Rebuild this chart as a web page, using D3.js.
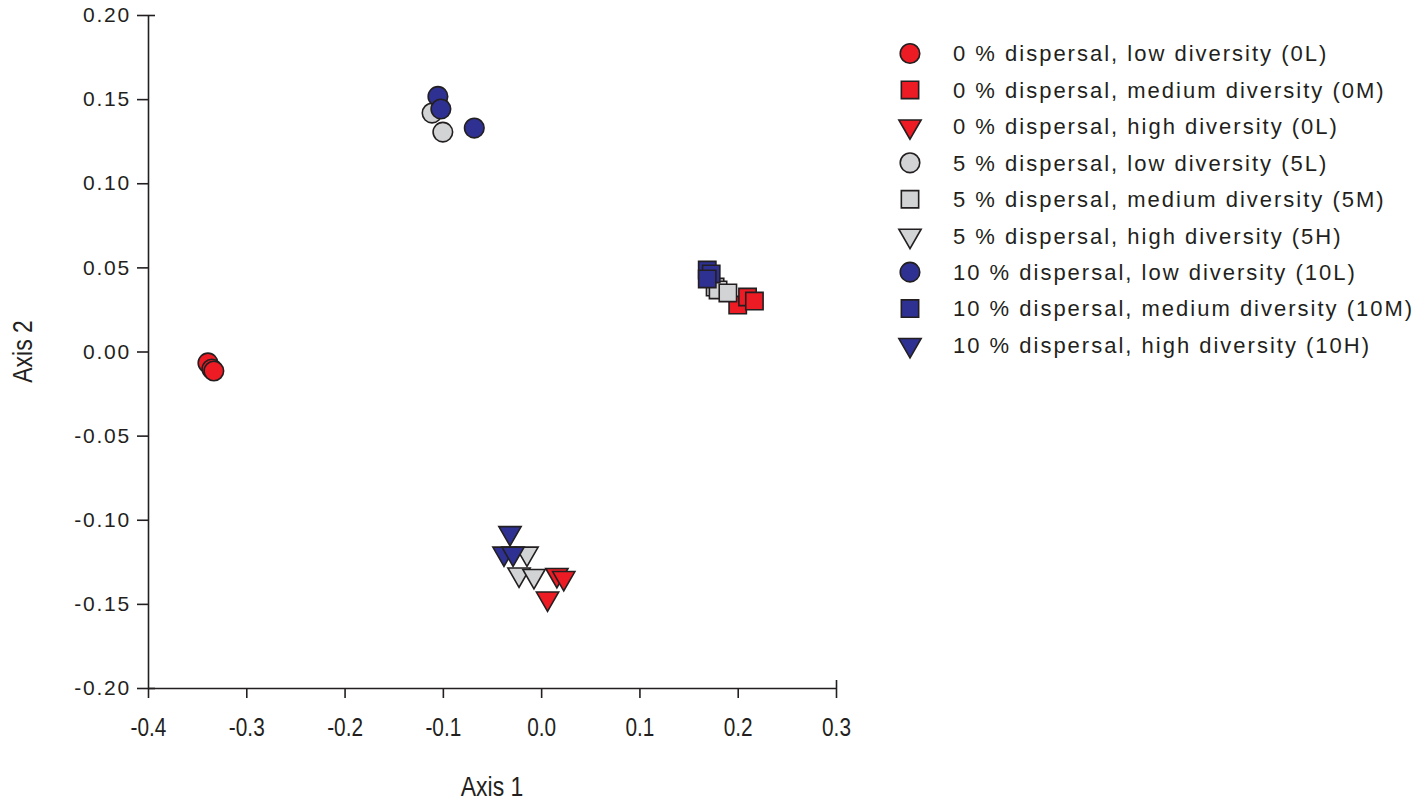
<!DOCTYPE html>
<html>
<head>
<meta charset="utf-8">
<script src="https://cdn.jsdelivr.net/npm/d3@7"></script>
<style>
  html, body { margin: 0; padding: 0; background: #fff; }
  svg { display: block; }
</style>
</head>
<body>
<div id="container"></div>
<script>
(function(){

    // ---- data (axis 1, axis 2)
    const labels = [
        "0 % dispersal, low diversity (0L)",
        "0 % dispersal, medium diversity (0M)",
        "0 % dispersal, high diversity (0L)",
        "5 % dispersal, low diversity (5L)",
        "5 % dispersal, medium diversity (5M)",
        "5 % dispersal, high diversity (5H)",
        "10 % dispersal, low diversity (10L)",
        "10 % dispersal, medium diversity (10M)",
        "10 % dispersal, high diversity (10H)"
    ];
    const dispersal = ["0", "0", "0", "5", "5", "5", "10", "10", "10"];
    const diversity = ["L", "M", "H", "L", "M", "H", "L", "M", "H"];

    const pts0L  = [[-0.339, -0.0068], [-0.335, -0.0104], [-0.333, -0.0116]];
    const pts0M  = [[0.200, 0.0276], [0.210, 0.0324], [0.217, 0.0300]];
    const pts0H  = [[0.016, -0.1328], [0.023, -0.1346], [0.0065, -0.1468]];
    const pts5L  = [[-0.111, 0.1417], [-0.100, 0.1304]];
    const pts5M  = [[0.177, 0.0383], [0.180, 0.0366], [0.190, 0.0348]];
    const pts5H  = [[-0.0144, -0.1201], [-0.0225, -0.1325], [-0.0073, -0.1334]];
    const pts10L = [[-0.105, 0.1516], [-0.102, 0.1441], [-0.068, 0.1328]];
    const pts10M = [[0.169, 0.0484], [0.173, 0.0461], [0.169, 0.0431]];
    const pts10H = [[-0.0317, -0.1079], [-0.0378, -0.1201], [-0.0286, -0.1201]];

    const seriesPoints = [pts0L, pts0M, pts0H, pts5L, pts5M, pts5H, pts10L, pts10M, pts10H];

    const xTicks = [-0.4, -0.3, -0.2, -0.1, 0.0, 0.1, 0.2, 0.3];
    const yTicks = [-0.20, -0.15, -0.10, -0.05, 0.00, 0.05, 0.10, 0.15, 0.20];

    // ---- look
    const width = 1428, height = 801;
    const margin = {top: 15, left: 148, right: 592, bottom: 113};
    const fillOf = {"0": "#ED1C24", "5": "#D1D3D4", "10": "#2E3192"};
    const stroke = "#231F20";
    const symbolOf = {
        L: d3.symbolCircle,
        M: d3.symbolSquare,
        H: d3.symbolTriangle
    };
    const sizeOf = {L: 300, M: 300, H: 215};
    const font = "'Liberation Sans', Arial, sans-serif";
    const hyphen = f => d => d3.format(f)(d).replace("\u2212", "-");

    const x = d3.scaleLinear([-0.4, 0.3], [margin.left, width - margin.right]);
    const y = d3.scaleLinear([-0.2, 0.2], [height - margin.bottom, margin.top]);

    const svg = d3.select("#container").append("svg")
        .attr("width", width)
        .attr("height", height);

    // ---- axes
    const gx = svg.append("g")
        .attr("transform", `translate(0,${y(-0.2)})`)
        .call(d3.axisBottom(x).tickValues(xTicks).tickFormat(hyphen(".1f"))
            .tickSize(10).tickSizeOuter(0).tickPadding(20));
    // the x labels are set in a condensed face
    gx.selectAll("text")
        .style("font-family", font)
        .style("font-size", "26px")
        .attr("transform", "scale(0.8,1)")
        .attr("fill", stroke);

    const gy = svg.append("g")
        .attr("transform", `translate(${x(-0.4)},0)`)
        .call(d3.axisLeft(y).tickValues(yTicks).tickFormat(hyphen(".2f"))
            .tickSize(11).tickSizeOuter(0).tickPadding(6));
    gy.selectAll("text")
        .style("font-family", font)
        .style("font-size", "21px")
        .style("letter-spacing", "1.8px")
        .attr("fill", stroke);

    [gx, gy].forEach(g => {
        g.select(".domain").attr("stroke", stroke).attr("stroke-width", 1.6);
        g.selectAll(".tick line").attr("stroke", stroke).attr("stroke-width", 1.6);
    });
    // end ticks cross the axis line
    gy.selectAll(".tick").filter(d => d === 0.2 || d === -0.2)
        .select("line").attr("x2", 7).attr("x1", -11);
    gx.selectAll(".tick").filter(d => d === 0.3)
        .select("line").attr("y1", -8);

    svg.append("text")
        .attr("transform", `translate(${(x(-0.4) + x(0.3)) / 2},796) scale(0.82,1)`)
        .attr("text-anchor", "middle")
        .style("font-family", font)
        .style("font-size", "28px")
        .attr("fill", stroke)
        .text("Axis 1");

    svg.append("text")
        .attr("transform", `translate(32,${y(0)}) rotate(-90) scale(0.82,1)`)
        .attr("text-anchor", "middle")
        .style("font-family", font)
        .style("font-size", "28px")
        .attr("fill", stroke)
        .text("Axis 2");

    // ---- points
    const symbolPath = i => d3.symbol(symbolOf[diversity[i]], sizeOf[diversity[i]])();
    const rot = i => diversity[i] === "H" ? " rotate(180)" : "";

    seriesPoints.forEach((pts, i) => {
        svg.append("g")
            .selectAll("path")
            .data(pts)
            .join("path")
            .attr("d", symbolPath(i))
            .attr("transform", d => `translate(${x(d[0])},${y(d[1])})${rot(i)}`)
            .attr("fill", fillOf[dispersal[i]])
            .attr("stroke", stroke)
            .attr("stroke-width", 1.6);
    });

    // ---- legend
    const legend = svg.append("g");
    const rowY = d3.scaleLinear([0, 8], [53.5, 345]);
    labels.forEach((lab, i) => {
        const ry = rowY(i);
        legend.append("path")
            .attr("d", symbolPath(i))
            .attr("transform", `translate(910,${ry})${rot(i)}`)
            .attr("fill", fillOf[dispersal[i]])
            .attr("stroke", stroke)
            .attr("stroke-width", 1.6);
        legend.append("text")
            .attr("x", 953)
            .attr("y", ry)
            .attr("dy", "0.36em")
            .style("font-family", font)
            .style("font-size", "22px")
            .style("letter-spacing", "2px")
            .attr("fill", stroke)
            .text(lab);
    });

})();
</script>
</body>
</html>
